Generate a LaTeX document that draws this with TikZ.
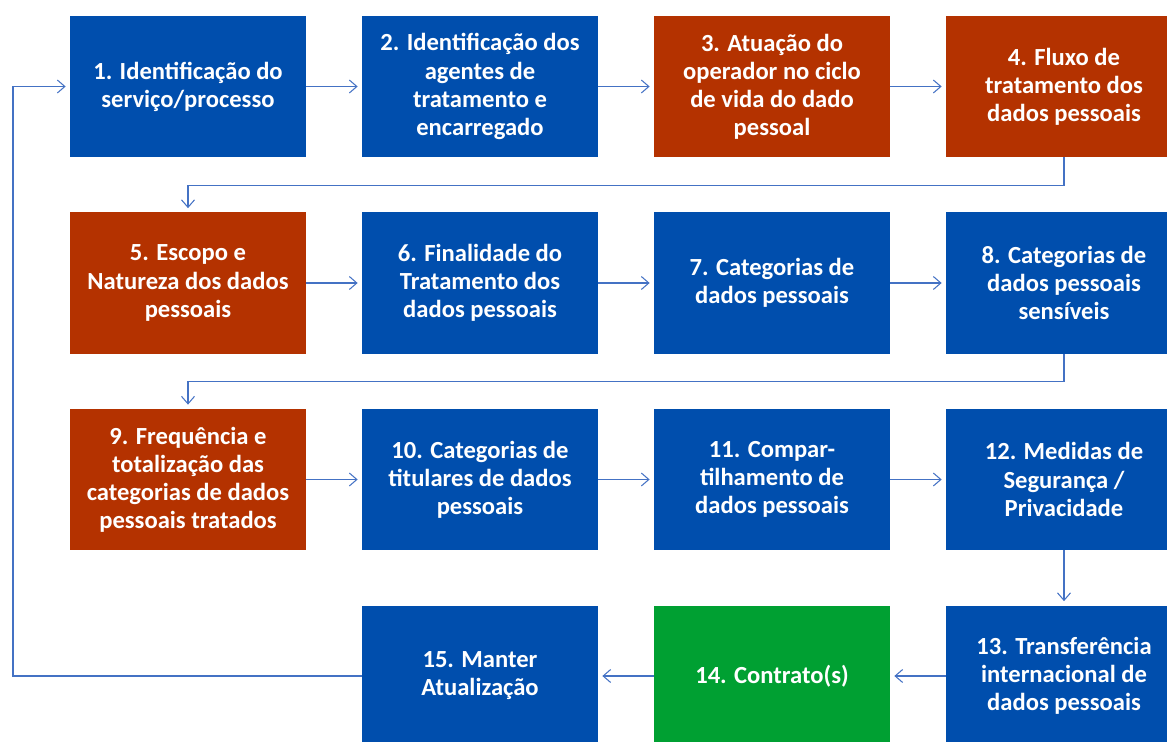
\documentclass[tikz,border=0pt]{standalone}
\usepackage{fontspec}
\setmainfont{Carlito}
\usetikzlibrary{arrows.meta,positioning}
\definecolor{boxblue}{RGB}{0,78,173}
\definecolor{boxred}{RGB}{180,50,0}
\definecolor{boxgreen}{RGB}{0,160,50}
\definecolor{linkblue}{RGB}{68,114,196}

\begin{document}
\begin{tikzpicture}
    \def\dx{5.84}
    \def\dy{3.93}
    \tikzset{
        stage/.style={rectangle, minimum width=4.72cm, minimum height=2.82cm, inner sep=0pt, text=white, align=center, font=\bfseries\fontsize{14}{16}\selectfont},
        stageblue/.style={stage, fill=boxblue},
        stagered/.style={stage, fill=boxred},
        stagegreen/.style={stage, fill=boxgreen},
        link/.style={draw=linkblue, line width=0.6pt, -{Straight Barb[length=1.5mm, width=2.6mm]}, shorten >=0.08cm}
    }
    \clip (0,0) rectangle (23.34,-14.84);

    % row 1
    \node(s1) [stageblue] at (3.76+\dx*0, -1.73-\dy*0) {1. Identificação do\\serviço/processo};
    \node(s2) [stageblue] at (3.76+\dx*1, -1.73-\dy*0) {2. Identificação dos\\agentes de\\tratamento e\\encarregado};
    \node(s3) [stagered] at (3.76+\dx*2, -1.73-\dy*0) {3. Atuação do\\operador no ciclo\\de vida do dado\\pessoal};
    \node(s4) [stagered] at (3.76+\dx*3, -1.73-\dy*0) {4. Fluxo de\\tratamento dos\\dados pessoais};
    % row 2
    \node(s5) [stagered] at (3.76+\dx*0, -1.73-\dy*1) {5. Escopo e\\Natureza dos dados\\pessoais};
    \node(s6) [stageblue] at (3.76+\dx*1, -1.73-\dy*1) {6. Finalidade do\\Tratamento dos\\dados pessoais};
    \node(s7) [stageblue] at (3.76+\dx*2, -1.73-\dy*1) {7. Categorias de\\dados pessoais};
    \node(s8) [stageblue] at (3.76+\dx*3, -1.73-\dy*1) {8. Categorias de\\dados pessoais\\sensíveis};
    % row 3
    \node(s9) [stagered] at (3.76+\dx*0, -1.73-\dy*2) {9. Frequência e\\totalização das\\categorias de dados\\pessoais tratados};
    \node(s10) [stageblue] at (3.76+\dx*1, -1.73-\dy*2) {10. Categorias de\\titulares de dados\\pessoais};
    \node(s11) [stageblue] at (3.76+\dx*2, -1.73-\dy*2) {11. Compar-\\tilhamento de\\dados pessoais};
    \node(s12) [stageblue] at (3.76+\dx*3, -1.73-\dy*2) {12. Medidas de\\Segurança /\\Privacidade};
    % row 4
    \node(s13) [stageblue] at (3.76+\dx*3, -1.73-\dy*3) {13. Transferência\\internacional de\\dados pessoais};
    \node(s14) [stagegreen] at (3.76+\dx*2, -1.73-\dy*3) {14. Contrato(s)};
    \node(s15) [stageblue] at (3.76+\dx*1, -1.73-\dy*3) {15. Manter\\Atualização};

    \coordinate(ret) at (0.26, -1.73);

    \draw[link] (s1) -- (s2);
    \draw[link] (s2) -- (s3);
    \draw[link] (s3) -- (s4);
    \draw[link] (s4.south) -- ++(0,-0.56) -| (s5.north);
    \draw[link] (s5) -- (s6);
    \draw[link] (s6) -- (s7);
    \draw[link] (s7) -- (s8);
    \draw[link] (s8.south) -- ++(0,-0.56) -| (s9.north);
    \draw[link] (s9) -- (s10);
    \draw[link] (s10) -- (s11);
    \draw[link] (s11) -- (s12);
    \draw[link] (s12) -- (s13);
    \draw[link] (s13) -- (s14);
    \draw[link] (s14) -- (s15);
    \draw[link] (s15.west) -| (ret) -- (s1.west);
\end{tikzpicture}
\end{document}
